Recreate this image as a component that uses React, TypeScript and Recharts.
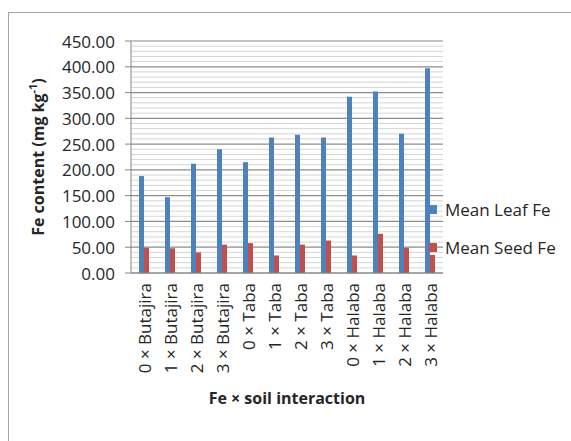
import { BarChart, Bar, XAxis, YAxis, CartesianGrid, Legend, Label } from "recharts";

// x categories (Fe rate × soil)
const categories = [
  "0 × Butajira",
  "1 × Butajira",
  "2 × Butajira",
  "3 × Butajira",
  "0 × Taba",
  "1 × Taba",
  "2 × Taba",
  "3 × Taba",
  "0 × Halaba",
  "1 × Halaba",
  "2 × Halaba",
  "3 × Halaba",
];

const leafFe = [188, 147, 212, 240, 215, 263, 268, 263, 342, 352, 270, 397];
const seedFe = [49, 48, 40, 55, 58, 34, 55, 63, 34, 76, 49, 35];

// labelled ticks every 50, grid lines every 10
const gridTicks = Array.from({ length: 46 }, (_, i) => i * 10);

const seriesNames = ["Mean Leaf Fe", "Mean Seed Fe"];
const colors = ["#4F81BD", "#C0504D"];

const FONT = "'Open Sans', sans-serif";
const TEXT = "#262626";

const data = categories.map((c, i) => ({
  name: c,
  leaf: leafFe[i],
  seed: seedFe[i],
}));

const YTick = (props: any) => {
  const { y, payload } = props;
  if (payload.value % 50 !== 0) return <g />;
  return (
    <g>
      <line x1={125} x2={131} y1={y} y2={y} stroke="#868686" />
      <text
        x={115}
        y={y}
        textAnchor="end"
        dominantBaseline="central"
        fontFamily={FONT}
        fontSize={17}
        fill={TEXT}
      >
        {payload.value.toFixed(2)}
      </text>
    </g>
  );
};

const XTick = (props: any) => {
  const { x, payload } = props;
  const y = 283;
  return (
    <text
      x={x}
      y={y}
      transform={`rotate(-90 ${x} ${y})`}
      textAnchor="end"
      dominantBaseline="central"
      fontFamily={FONT}
      fontSize={17}
      fill={TEXT}
    >
      {payload.value}
    </text>
  );
};

const gridLine = (props: any) => {
  const { x1, x2, y1, y2, index } = props;
  const major = index % 5 === 0;
  return (
    <line
      key={`g-${index}`}
      x1={x1}
      x2={x2}
      y1={y1}
      y2={y2}
      stroke={major ? "#8c8c8c" : "#d4d4d4"}
      strokeWidth={major ? 1.2 : 1}
    />
  );
};

const LegendBox = () => (
  <div style={{ fontFamily: FONT, fontSize: 17, color: TEXT }}>
    {seriesNames.map((n, i) => (
      <div
        key={n}
        style={{
          display: "flex",
          alignItems: "center",
          height: 20,
          marginTop: i === 0 ? 0 : 18,
        }}
      >
        <span
          style={{
            width: 8,
            height: 9,
            background: colors[i],
            marginRight: 8,
            display: "inline-block",
          }}
        />
        <span style={{ whiteSpace: "nowrap" }}>{n}</span>
      </div>
    ))}
  </div>
);

export default function App() {
  return (
    <div
      style={{
        position: "absolute",
        left: 0,
        top: 0,
        width: 571,
        height: 441,
        background: "#fff",
        overflow: "hidden",
      }}
    >
      <div
        style={{
          position: "absolute",
          left: 8,
          top: 12,
          width: 600,
          height: 500,
          borderLeft: "1px solid #a6a6a6",
          borderTop: "1px solid #a6a6a6",
        }}
      />
      <BarChart
        width={571}
        height={441}
        data={data}
        margin={{ top: 41, right: 128, bottom: 38, left: 0 }}
        barGap={0}
        barSize={5}
        style={{ position: "absolute", left: 0, top: 0 }}
      >
        <CartesianGrid vertical={false} horizontal={gridLine} />
        <XAxis
          dataKey="name"
          interval={0}
          height={130}
          tickLine={false}
          axisLine={{ stroke: "#868686" }}
          tick={<XTick />}
        >
          <Label
            content={() => (
              <text
                x={287}
                y={398}
                textAnchor="middle"
                dominantBaseline="central"
                fontFamily={FONT}
                fontWeight="bold"
                fontSize={16}
                fill={TEXT}
              >
                Fe × soil interaction
              </text>
            )}
          />
        </XAxis>
        <YAxis
          width={131}
          domain={[0, 450]}
          ticks={gridTicks}
          interval={0}
          tickLine={false}
          axisLine={{ stroke: "#868686" }}
          tick={<YTick />}
        >
          <Label
            content={() => (
              <text
                x={38}
                y={157}
                transform="rotate(-90 38 157)"
                textAnchor="middle"
                dominantBaseline="central"
                fontFamily={FONT}
                fontWeight="bold"
                fontSize={16}
                fill={TEXT}
              >
                Fe content (mg kg
                <tspan dy={-6} fontSize={11}>-1</tspan>
                <tspan dy={6}>)</tspan>
              </text>
            )}
          />
        </YAxis>
        <Bar dataKey="leaf" name={seriesNames[0]} fill={colors[0]} isAnimationActive={false} />
        <Bar dataKey="seed" name={seriesNames[1]} fill={colors[1]} isAnimationActive={false} />
        <Legend
          layout="horizontal"
          verticalAlign="middle"
          content={<LegendBox />}
          wrapperStyle={{ position: "absolute", left: 429, top: 199, width: 140, height: 60 }}
        />
      </BarChart>
    </div>
  );
}
